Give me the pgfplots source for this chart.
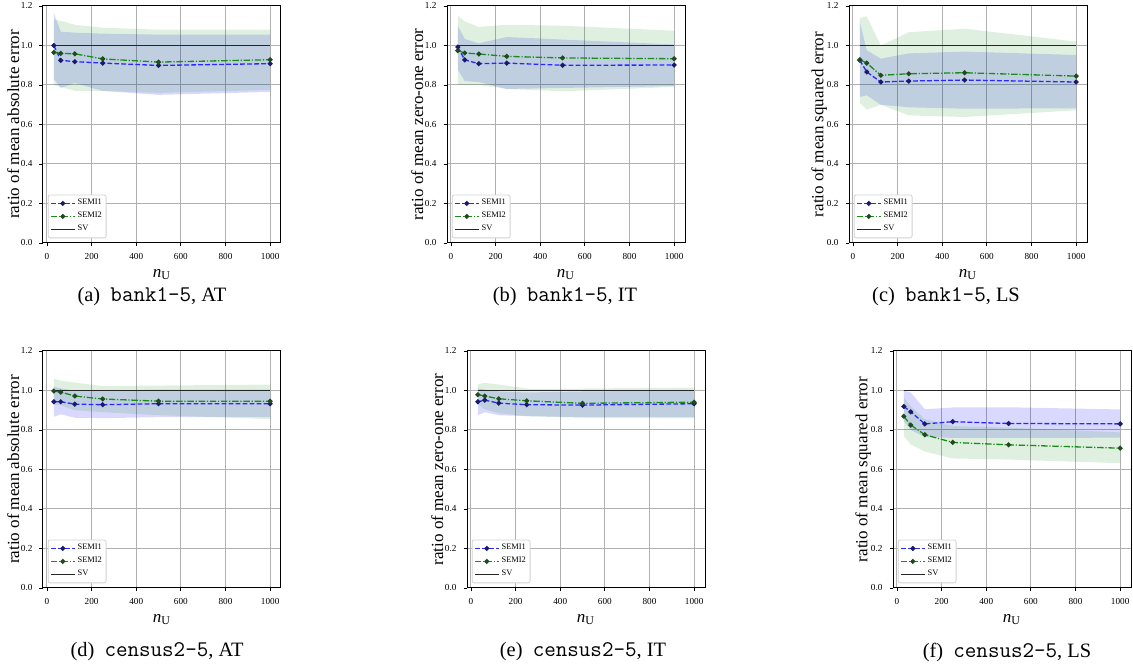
\documentclass[border=0pt]{standalone}
\usepackage{pgfplots}
\pgfplotsset{compat=1.18}
\usepackage{pgfplotstable}
\usepackage{fontspec}
\setmainfont{Liberation Serif}

\definecolor{sOne}{RGB}{40,40,255}
\definecolor{sOneM}{RGB}{25,25,110}
\definecolor{sTwo}{RGB}{25,140,25}
\definecolor{sTwoM}{RGB}{30,75,30}
\definecolor{gridc}{RGB}{176,176,176}
\definecolor{bandB}{RGB}{0,0,255}
\definecolor{bandG}{RGB}{0,128,0}

% columns: n_U, SEMI1 mean, SEMI2 mean
\pgfplotstableread{
x s1 s2
31 1.000 0.965
62 0.925 0.960
125 0.918 0.958
250 0.911 0.932
500 0.899 0.916
1000 0.908 0.928
}\tA
\pgfplotstableread{
x s1 s2
31 0.992 0.974
62 0.927 0.962
125 0.908 0.957
250 0.911 0.945
500 0.900 0.937
1000 0.901 0.933
}\tB
\pgfplotstableread{
x s1 s2
31 0.925 0.928
62 0.866 0.911
125 0.815 0.849
250 0.820 0.857
500 0.825 0.862
1000 0.815 0.845
}\tC
\pgfplotstableread{
x s1 s2
31 0.943 0.997
62 0.943 0.992
125 0.931 0.972
250 0.928 0.957
500 0.933 0.946
1000 0.933 0.946
}\tD
\pgfplotstableread{
x s1 s2
31 0.943 0.979
62 0.951 0.972
125 0.936 0.958
250 0.928 0.948
500 0.926 0.935
1000 0.933 0.941
}\tE
\pgfplotstableread{
x s1 s2
31 0.919 0.869
62 0.892 0.825
125 0.831 0.776
250 0.842 0.737
500 0.833 0.725
1000 0.831 0.708
}\tF

\pgfplotsset{
 panelstyle/.style={
  scale only axis, width=119pt, height=118.5pt,
  xmin=-17.5, xmax=1048.5, ymin=0, ymax=1.2,
  xtick={0,200,400,600,800,1000},
  ytick={0,0.2,0.4,0.6,0.8,1.0,1.2},
  yticklabel style={/pgf/number format/.cd, fixed, fixed zerofill, precision=1},
  /pgf/number format/assume math mode=true,
  /pgf/number format/1000 sep={},
  tick label style={font=\fontsize{4.6}{5}\selectfont},
  label style={font=\fontsize{8.5}{10}\selectfont},
  ylabel style={at={(axis description cs:-0.125,0.5)}, anchor=center, rotate=0},
  grid=major, grid style={gridc, line width=0.5pt},
  tick align=outside, tick pos=left, major tick length=1.75pt,
  tick style={black, line width=0.4pt},
  axis line style={line width=0.5pt},
  xlabel={\textit{n}\textsubscript{U}},
  xlabel style={yshift=2pt},
  legend style={at={(0.02,0.02)}, anchor=south west, draw=gray!35,
    rounded corners=1pt, fill=white,
    font=\fontsize{4.2}{5}\selectfont, inner sep=1pt, row sep=0pt,
    nodes={inner sep=1.1pt}},
  legend cell align=left,
  legend image code/.code={\draw[mark repeat=2,mark phase=2,##1] plot coordinates {(0pt,0pt) (6pt,0pt) (12pt,0pt)};},
 }
}

% #1 x, #2 y, #3 table, #4 ylabel, #5 SEMI1 band polygon, #6 SEMI2 band polygon
\newcommand{\panel}[6]{%
\begin{axis}[at={(#1,#2)}, anchor=south west, panelstyle, ylabel={#4}]
\addplot[fill=bandB, fill opacity=0.15, draw=none, forget plot] coordinates {#5};
\addplot[fill=bandG, fill opacity=0.12, draw=none, forget plot] coordinates {#6};
\addplot[sOne, line width=0.65pt, dash pattern=on 2.4pt off 1.1pt, mark=*, mark size=0.9pt, mark options={solid, fill=sOneM, draw=sOneM}] table[x=x,y=s1]{#3};
\addlegendentry{SEMI1}
\addplot[sTwo, line width=0.65pt, dash pattern=on 3.2pt off 0.9pt on 0.6pt off 0.9pt, mark=*, mark size=0.9pt, mark options={solid, fill=sTwoM, draw=sTwoM}] table[x=x,y=s2]{#3};
\addlegendentry{SEMI2}
\addplot[black!85, line width=0.65pt] coordinates {(31,1) (1000,1)};
\addlegendentry{SV}
\end{axis}}

\newcommand{\capt}[3]{\node[font=\fontsize{10.2}{12}\selectfont, inner sep=0pt] at (#1,#2) {#3};}

\begin{document}
\begin{tikzpicture}
\useasboundingbox (0,0) rectangle (566.5pt,334pt);
\panel{21.5pt}{212.5pt}{\tA}{ratio of mean absolute error}
{(31,1.165)(62,1.070)(125,1.065)(250,1.060)(500,1.055)(1000,1.055)(1000,0.765)(500,0.750)(250,0.770)(125,0.810)(62,0.785)(31,0.830)}
{(31,1.130)(62,1.125)(125,1.105)(250,1.090)(500,1.080)(1000,1.080)(1000,0.775)(500,0.760)(250,0.770)(125,0.770)(62,0.790)(31,0.800)}
\panel{223.5pt}{212.5pt}{\tB}{ratio of mean zero-one error}
{(31,1.100)(62,1.033)(125,1.011)(250,1.043)(500,1.030)(1000,1.005)(1000,0.795)(500,0.785)(250,0.780)(125,0.815)(62,0.820)(31,0.878)}
{(31,1.150)(62,1.122)(125,1.094)(250,1.105)(500,1.100)(1000,1.075)(1000,0.790)(500,0.768)(250,0.780)(125,0.800)(62,0.800)(31,0.800)}
\panel{424.5pt}{212.5pt}{\tC}{ratio of mean squared error}
{(31,1.119)(62,0.976)(125,0.933)(250,0.960)(500,0.969)(1000,0.952)(1000,0.682)(500,0.680)(250,0.687)(125,0.700)(62,0.748)(31,0.739)}
{(31,1.139)(62,1.148)(125,1.000)(250,1.067)(500,1.085)(1000,1.020)(1000,0.672)(500,0.638)(250,0.646)(125,0.700)(62,0.675)(31,0.709)}
\panel{21.5pt}{40pt}{\tD}{ratio of mean absolute error}
{(31,1.019)(62,1.010)(125,1.000)(250,1.000)(500,1.005)(1000,1.005)(1000,0.865)(500,0.865)(250,0.860)(125,0.862)(62,0.880)(31,0.867)}
{(31,1.060)(62,1.050)(125,1.040)(250,1.022)(500,1.025)(1000,1.030)(1000,0.855)(500,0.875)(250,0.890)(125,0.900)(62,0.925)(31,0.930)}
\panel{233.5pt}{40pt}{\tE}{ratio of mean zero-one error}
{(31,1.010)(62,1.005)(125,0.995)(250,0.990)(500,0.995)(1000,1.000)(1000,0.865)(500,0.865)(250,0.870)(125,0.875)(62,0.890)(31,0.875)}
{(31,1.031)(62,1.039)(125,1.030)(250,1.010)(500,1.010)(1000,1.015)(1000,0.860)(500,0.862)(250,0.870)(125,0.885)(62,0.905)(31,0.930)}
\panel{446.5pt}{40pt}{\tF}{ratio of mean squared error}
{(31,1.000)(62,0.990)(125,0.905)(250,0.914)(500,0.915)(1000,0.904)(1000,0.761)(500,0.760)(250,0.760)(125,0.765)(62,0.800)(31,0.845)}
{(31,0.965)(62,0.920)(125,0.855)(250,0.820)(500,0.812)(1000,0.788)(1000,0.632)(500,0.650)(250,0.656)(125,0.691)(62,0.727)(31,0.769)}
\capt{76pt}{185.5pt}{(a)\ \ {\fontsize{11.2}{12}\ttfamily bank1-5}, AT}
\capt{282.5pt}{185.5pt}{(b)\ \ {\fontsize{11.2}{12}\ttfamily bank1-5}, IT}
\capt{473pt}{185.5pt}{(c)\ \ {\fontsize{11.2}{12}\ttfamily bank1-5}, LS}
\capt{78.5pt}{8pt}{(d)\ \ {\fontsize{11.2}{12}\ttfamily census2-5}, AT}
\capt{291.5pt}{8pt}{(e)\ \ {\fontsize{11.2}{12}\ttfamily census2-5}, IT}
\capt{503.5pt}{8pt}{(f)\ \ {\fontsize{11.2}{12}\ttfamily census2-5}, LS}
\end{tikzpicture}
\end{document}
